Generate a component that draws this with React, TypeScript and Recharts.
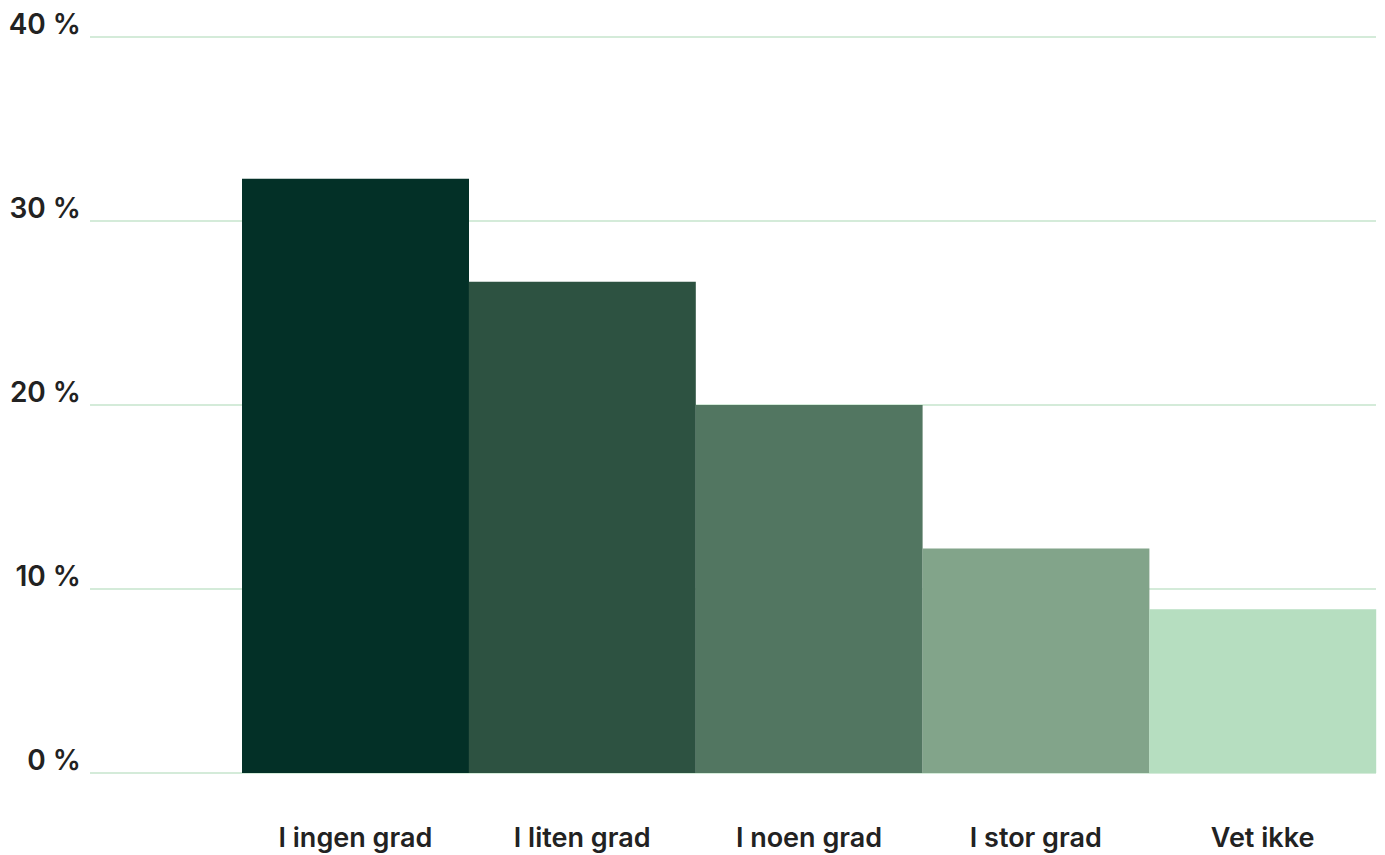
import { BarChart, Bar, XAxis, YAxis, CartesianGrid, Cell } from "recharts";

const categories = ["I ingen grad", "I liten grad", "I noen grad", "I stor grad", "Vet ikke"];
const shares = [32.3, 26.7, 20.0, 12.2, 8.9];
const barColors = ["#033027", "#2d5241", "#527661", "#82a48a", "#b6dec0"];
const yTicks = [0, 10, 20, 30, 40];

const data = categories.map((name, i) => ({ name, value: shares[i] }));

const FONT = "Inter";

function YTick({ x, y, payload }: any) {
  return (
    <text x={x + 2} y={y - 11} textAnchor="end" dominantBaseline="middle" fontFamily={FONT} fontWeight={600} fontSize={28} fill="#222">
      {payload.value} %
    </text>
  );
}

function XTick({ x, y, payload }: any) {
  return (
    <text x={x} y={y + 65} textAnchor="middle" dominantBaseline="middle" fontFamily={FONT} fontWeight={600} fontSize={27} fill="#222">
      {payload.value}
    </text>
  );
}

export default function App() {
  return (
    <div style={{ position: "absolute", left: 0, top: 0, background: "#fff" }}>
      <BarChart width={1385} height={855} data={data} margin={{ top: 37, right: 9, bottom: 0, left: 0 }} barCategoryGap={0}>
        <CartesianGrid vertical={false} stroke="#c6e5cd" strokeWidth={1.5} />
        <XAxis dataKey="name" axisLine={false} tickLine={false} tickSize={0} height={82} padding={{ left: 152, right: 0 }} tick={<XTick />} interval={0} />
        <YAxis domain={[0, 40]} ticks={yTicks} axisLine={false} tickLine={false} tickSize={0} tickMargin={11} width={90} tick={<YTick />} />
        <Bar dataKey="value" isAnimationActive={false}>
          {data.map((d, i) => (
            <Cell key={d.name} fill={barColors[i]} />
          ))}
        </Bar>
      </BarChart>
    </div>
  );
}
